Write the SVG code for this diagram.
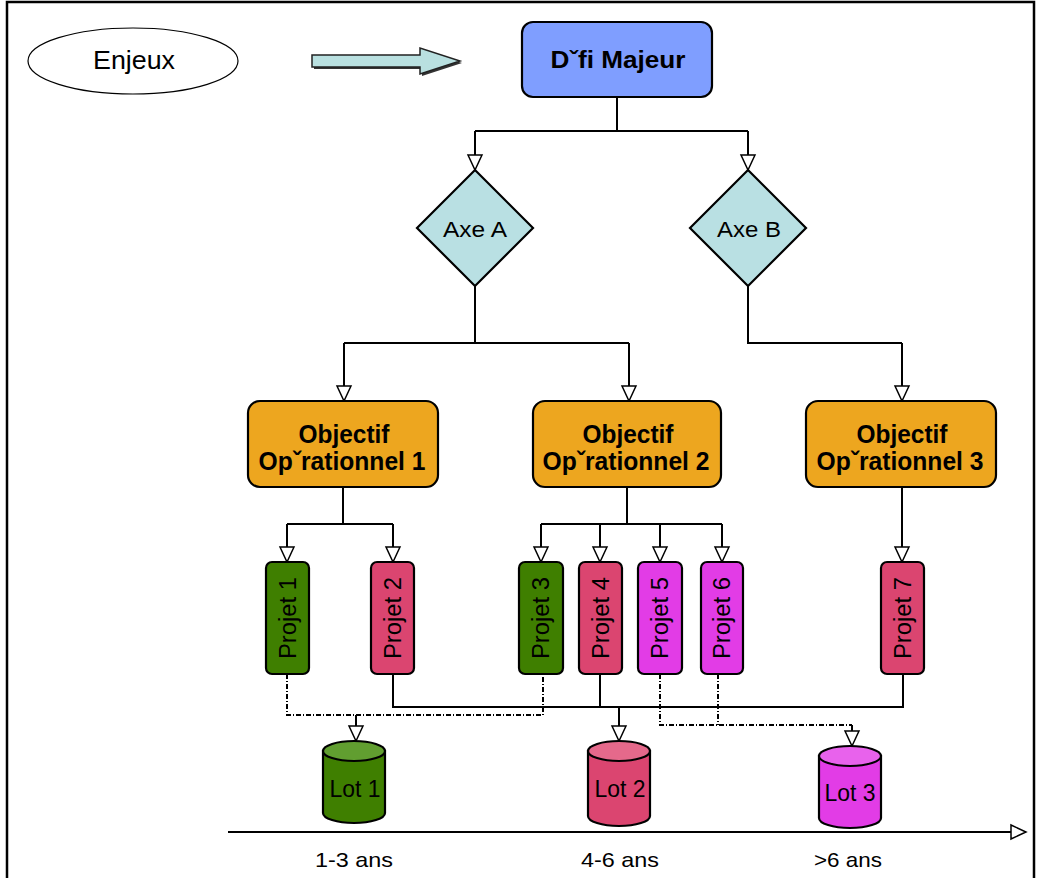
<svg xmlns="http://www.w3.org/2000/svg" width="1037" height="878" viewBox="0 0 1037 878">
<defs>
<style>
.t{font-family:"Liberation Sans",Arial,sans-serif;fill:#000;text-anchor:middle}
.b{font-weight:bold}
.ln{fill:none;stroke:#000;stroke-width:2}
.dash{fill:none;stroke:#000;stroke-width:2;stroke-dasharray:5 2 1 2}
.box{stroke:#000;stroke-width:2.2}
.pj{font-size:23px}
.lot{font-size:23px}
.ob{font-size:25px}
</style>
<marker id="ah" markerUnits="userSpaceOnUse" markerWidth="18" markerHeight="18" viewBox="-1 -9 17 18" refX="15" refY="0" orient="auto">
<path d="M0,-7 L15,0 L0,7 Z" fill="#fff" stroke="#000" stroke-width="1.5"/>
</marker>
</defs>
<rect width="1037" height="878" fill="#fff"/>
<path d="M7,878 V2 H1034 V878" fill="none" stroke="#000" stroke-width="2.5"/>

<g id="enjeux">
<ellipse cx="133" cy="61" rx="105" ry="33" fill="#fff" stroke="#000" stroke-width="1.2"/>
<text class="t" x="134" y="69" font-size="26" textLength="82" lengthAdjust="spacingAndGlyphs">Enjeux</text>
</g>
<g id="bigarrow">
<polygon points="314,57 422,57 422,50 462,63 422,76 422,69 314,69" fill="#333"/>
<polygon points="312,55 420,55 420,48 460,61 420,74 420,67 312,67" fill="#b9e0e0" stroke="#222" stroke-width="1.5"/>
</g>

<g id="connectors">
<path class="ln" d="M617,97 V131"/>
<path class="ln" d="M475,131 H748"/>
<path class="ln" d="M475,131 V170" marker-end="url(#ah)"/>
<path class="ln" d="M748,131 V170" marker-end="url(#ah)"/>
<path class="ln" d="M475,286 V343 M344,343 H629"/>
<path class="ln" d="M344,343 V401" marker-end="url(#ah)"/>
<path class="ln" d="M629,343 V401" marker-end="url(#ah)"/>
<path class="ln" d="M748,286 V343 H902"/>
<path class="ln" d="M902,343 V401" marker-end="url(#ah)"/>
<path class="ln" d="M343,487 V524 M287,524 H393"/>
<path class="ln" d="M287,524 V562" marker-end="url(#ah)"/>
<path class="ln" d="M393,524 V562" marker-end="url(#ah)"/>
<path class="ln" d="M627,487 V524 M541,524 H722"/>
<path class="ln" d="M541,524 V562" marker-end="url(#ah)"/>
<path class="ln" d="M600,524 V562" marker-end="url(#ah)"/>
<path class="ln" d="M660,524 V562" marker-end="url(#ah)"/>
<path class="ln" d="M722,524 V562" marker-end="url(#ah)"/>
<path class="ln" d="M902,487 V562" marker-end="url(#ah)"/>
<path class="dash" d="M287,674 V715 H543 V674"/>
<path class="ln" d="M356,715 V741" marker-end="url(#ah)"/>
<path class="ln" d="M393,674 V707 H903 V674 M600,674 V707"/>
<path class="ln" d="M619,707 V741" marker-end="url(#ah)"/>
<path class="dash" d="M660,674 V725 H852 M718,674 V725"/>
<path class="ln" d="M852,725 V746" marker-end="url(#ah)"/>
<path class="ln" d="M228,832 H1026" marker-end="url(#ah)"/>
</g>

<g id="defi">
<rect class="box" x="522" y="22" width="190" height="75" rx="11" fill="#7f9eff"/>
<text class="t b" x="618" y="68" font-size="24" textLength="135" lengthAdjust="spacingAndGlyphs">Dˇfi  Majeur</text>
</g>

<g id="axeA">
<polygon class="box" points="475,170 533,228 475,286 417,228" fill="#b9e0e3"/>
<text class="t" x="475" y="237" font-size="22" textLength="64" lengthAdjust="spacingAndGlyphs">Axe A</text>
</g>
<g id="axeB">
<polygon class="box" points="748,170 806,228 748,286 690,228" fill="#b9e0e3"/>
<text class="t" x="749" y="237" font-size="22" textLength="64" lengthAdjust="spacingAndGlyphs">Axe B</text>
</g>

<g id="obj1">
<rect class="box" x="248" y="401" width="190" height="86" rx="12" fill="#eda61f"/>
<text class="t b ob" x="344" y="443" textLength="91" lengthAdjust="spacingAndGlyphs">Objectif</text>
<text class="t b ob" x="342" y="470" textLength="167" lengthAdjust="spacingAndGlyphs">Opˇrationnel 1</text>
</g>
<g id="obj2">
<rect class="box" x="533" y="401" width="188" height="86" rx="12" fill="#eda61f"/>
<text class="t b ob" x="628" y="443" textLength="91" lengthAdjust="spacingAndGlyphs">Objectif</text>
<text class="t b ob" x="626" y="470" textLength="167" lengthAdjust="spacingAndGlyphs">Opˇrationnel 2</text>
</g>
<g id="obj3">
<rect class="box" x="806" y="401" width="190" height="86" rx="12" fill="#eda61f"/>
<text class="t b ob" x="902" y="443" textLength="91" lengthAdjust="spacingAndGlyphs">Objectif</text>
<text class="t b ob" x="900" y="470" textLength="167" lengthAdjust="spacingAndGlyphs">Opˇrationnel 3</text>
</g>

<g id="projet1">
<rect class="box" x="266" y="562" width="43" height="112" rx="6" fill="#3f7f00"/>
<text class="t pj" transform="translate(296,618) rotate(-90)" textLength="82" lengthAdjust="spacingAndGlyphs">Projet 1</text>
</g>
<g id="projet2">
<rect class="box" x="371" y="562" width="43" height="112" rx="6" fill="#db4570"/>
<text class="t pj" transform="translate(401,618) rotate(-90)" textLength="82" lengthAdjust="spacingAndGlyphs">Projet 2</text>
</g>
<g id="projet3">
<rect class="box" x="519" y="562" width="44" height="112" rx="6" fill="#3f7f00"/>
<text class="t pj" transform="translate(549,618) rotate(-90)" textLength="82" lengthAdjust="spacingAndGlyphs">Projet 3</text>
</g>
<g id="projet4">
<rect class="box" x="579" y="562" width="43" height="112" rx="6" fill="#db4570"/>
<text class="t pj" transform="translate(609,618) rotate(-90)" textLength="82" lengthAdjust="spacingAndGlyphs">Projet 4</text>
</g>
<g id="projet5">
<rect class="box" x="638" y="562" width="44" height="112" rx="6" fill="#e23ce6"/>
<text class="t pj" transform="translate(668,618) rotate(-90)" textLength="82" lengthAdjust="spacingAndGlyphs">Projet 5</text>
</g>
<g id="projet6">
<rect class="box" x="701" y="562" width="42" height="112" rx="6" fill="#e23ce6"/>
<text class="t pj" transform="translate(730,618) rotate(-90)" textLength="82" lengthAdjust="spacingAndGlyphs">Projet 6</text>
</g>
<g id="projet7">
<rect class="box" x="881" y="562" width="43" height="112" rx="6" fill="#db4570"/>
<text class="t pj" transform="translate(911,618) rotate(-90)" textLength="82" lengthAdjust="spacingAndGlyphs">Projet 7</text>
</g>

<g id="lot1">
<path class="box" d="M323,751 V813 A31,10 0 0 0 385,813 V751 Z" fill="#3f7f00"/>
<ellipse class="box" cx="354" cy="751" rx="31" ry="10" fill="#619e30"/>
<text class="t lot" x="355" y="797" textLength="51" lengthAdjust="spacingAndGlyphs">Lot 1</text>
</g>
<g id="lot2">
<path class="box" d="M588,751 V816 A31,10 0 0 0 650,816 V751 Z" fill="#db4570"/>
<ellipse class="box" cx="619" cy="751" rx="31" ry="10" fill="#e5698b"/>
<text class="t lot" x="620" y="797" textLength="51" lengthAdjust="spacingAndGlyphs">Lot 2</text>
</g>
<g id="lot3">
<path class="box" d="M819,756 V818 A31,10 0 0 0 881,818 V756 Z" fill="#e23ce6"/>
<ellipse class="box" cx="850" cy="756" rx="31" ry="10" fill="#e862ec"/>
<text class="t lot" x="850" y="801" textLength="51" lengthAdjust="spacingAndGlyphs">Lot 3</text>
</g>

<g id="axis-labels">
<text class="t" x="354" y="867" font-size="21" textLength="78" lengthAdjust="spacingAndGlyphs">1-3 ans</text>
<text class="t" x="620" y="867" font-size="21" textLength="78" lengthAdjust="spacingAndGlyphs">4-6 ans</text>
<text class="t" x="848" y="867" font-size="21" textLength="68" lengthAdjust="spacingAndGlyphs">&gt;6 ans</text>
</g>
</svg>
